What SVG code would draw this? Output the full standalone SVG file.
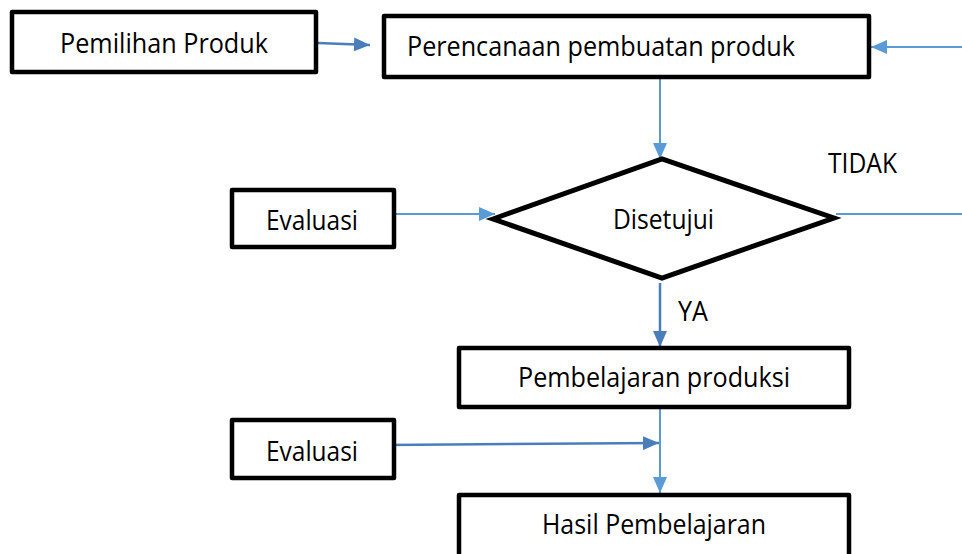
<svg xmlns="http://www.w3.org/2000/svg" width="962" height="554" viewBox="0 0 962 554">
  <defs>
    <style>
      .box { fill: #ffffff; stroke: #000000; stroke-width: 4.5; stroke-linejoin: round; }
      .dia { fill: #ffffff; stroke: #000000; stroke-width: 5; stroke-linejoin: miter; }
      .lbl { font-family: "Open Sans", "Noto Sans", "Liberation Sans", sans-serif; font-size: 27px; fill: #000000; }
      .c1 { fill: none; stroke: #5b9bd5; stroke-width: 2; }
      .c2 { fill: none; stroke: #4a7ebb; stroke-width: 2.5; }
    </style>
    <marker id="ah1" viewBox="0 0 16 14" refX="16" refY="7" markerWidth="16" markerHeight="14" markerUnits="userSpaceOnUse" orient="auto">
      <path d="M0,0 L16,7 L0,14 Z" fill="#5b9bd5"/>
    </marker>
    <marker id="ah2" viewBox="0 0 16 14" refX="16" refY="7" markerWidth="16" markerHeight="14" markerUnits="userSpaceOnUse" orient="auto">
      <path d="M0,0 L16,7 L0,14 Z" fill="#4a7ebb"/>
    </marker>
  </defs>
  <rect width="962" height="554" fill="#ffffff"/>

  <g id="connectors">
    <line class="c2" x1="318" y1="43" x2="370" y2="45" marker-end="url(#ah2)"/>
    <line class="c1" x1="962" y1="47" x2="871" y2="47" marker-end="url(#ah1)"/>
    <line class="c1" x1="660" y1="79" x2="660" y2="159" marker-end="url(#ah1)"/>
    <line class="c1" x1="396" y1="214" x2="495" y2="214" marker-end="url(#ah1)"/>
    <line class="c1" x1="836" y1="214" x2="962" y2="214" stroke-width="1.5"/>
    <line class="c2" x1="660" y1="283" x2="660" y2="347" marker-end="url(#ah2)"/>
    <line class="c1" x1="660" y1="409" x2="660" y2="493" marker-end="url(#ah1)"/>
    <line class="c2" x1="387" y1="445" x2="659" y2="443" marker-end="url(#ah2)"/>
  </g>

  <g id="pemilihan">
    <rect class="box" x="12" y="12" width="304" height="60"/>
    <text class="lbl" x="60" y="53" textLength="208" lengthAdjust="spacingAndGlyphs">Pemilihan Produk</text>
  </g>

  <g id="perencanaan">
    <rect class="box" x="384" y="16" width="485" height="61"/>
    <text class="lbl" x="407" y="56" textLength="388" lengthAdjust="spacingAndGlyphs">Perencanaan pembuatan produk</text>
  </g>

  <g id="evaluasi1">
    <rect class="box" x="232" y="190" width="162" height="57"/>
    <text class="lbl" x="266" y="230" textLength="92" lengthAdjust="spacingAndGlyphs">Evaluasi</text>
  </g>

  <g id="disetujui">
    <polygon class="dia" points="493,219 662,159 834,218 662,278"/>
    <text class="lbl" x="613" y="229" textLength="101" lengthAdjust="spacingAndGlyphs">Disetujui</text>
  </g>

  <g id="label-tidak">
    <text class="lbl" x="828" y="173" textLength="69" lengthAdjust="spacingAndGlyphs">TIDAK</text>
  </g>

  <g id="label-ya">
    <text class="lbl" x="678" y="321" textLength="30" lengthAdjust="spacingAndGlyphs">YA</text>
  </g>

  <g id="pembelajaran">
    <rect class="box" x="459" y="348" width="390" height="59"/>
    <text class="lbl" x="518" y="387" textLength="272" lengthAdjust="spacingAndGlyphs">Pembelajaran produksi</text>
  </g>

  <g id="evaluasi2">
    <rect class="box" x="232" y="420" width="162" height="58"/>
    <text class="lbl" x="266" y="461" textLength="92" lengthAdjust="spacingAndGlyphs">Evaluasi</text>
  </g>

  <g id="hasil">
    <rect class="box" x="459" y="495" width="390" height="70"/>
    <text class="lbl" x="542" y="534" textLength="224" lengthAdjust="spacingAndGlyphs">Hasil Pembelajaran</text>
  </g>
</svg>
